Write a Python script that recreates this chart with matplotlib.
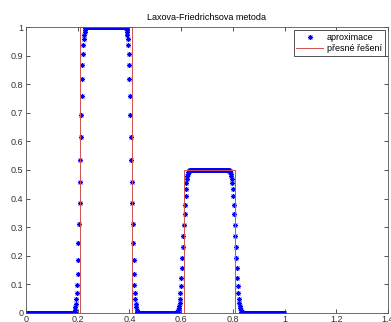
import numpy as np
import matplotlib
matplotlib.use("Agg")
import matplotlib.pyplot as plt

plt.rcParams['font.family'] = ['Liberation Sans', 'DejaVu Sans']

# presne reseni (schod)
exact_x = [0.0, 0.21, 0.21, 0.41, 0.41, 0.61, 0.61, 0.81, 0.81, 1.0]
exact_y = [0.0, 0.0, 1.0, 1.0, 0.0, 0.0, 0.5, 0.5, 0.0, 0.0]

# aproximace - hrany
rise1_x = [0.188, 0.190, 0.191, 0.193, 0.195, 0.196, 0.198, 0.200, 0.201, 0.203, 0.205, 0.207, 0.208,
           0.210, 0.212, 0.213, 0.215, 0.217, 0.218, 0.220, 0.222, 0.224, 0.225, 0.227, 0.229, 0.230]
rise1_y = [0.004, 0.008, 0.019, 0.031, 0.047, 0.068, 0.096, 0.135, 0.186, 0.243, 0.310, 0.384, 0.458,
           0.535, 0.617, 0.691, 0.758, 0.819, 0.868, 0.906, 0.938, 0.958, 0.974, 0.985, 0.992, 0.996]

fall1_x = [0.387, 0.389, 0.390, 0.392, 0.394, 0.395, 0.397, 0.399, 0.400, 0.402, 0.404, 0.406, 0.407,
           0.409, 0.411, 0.412, 0.414, 0.416, 0.417, 0.419, 0.421, 0.423, 0.425, 0.427, 0.429, 0.430]
fall1_y = [0.996, 0.992, 0.985, 0.974, 0.958, 0.938, 0.906, 0.868, 0.819, 0.758, 0.691, 0.617, 0.535,
           0.458, 0.384, 0.310, 0.243, 0.186, 0.135, 0.096, 0.068, 0.047, 0.031, 0.019, 0.008, 0.004]

rise2_x = [0.584, 0.586, 0.588, 0.590, 0.592, 0.594, 0.596, 0.597, 0.599, 0.601, 0.603, 0.605, 0.607,
           0.609, 0.611, 0.613, 0.615, 0.617, 0.618, 0.620, 0.622, 0.624, 0.626, 0.628, 0.630, 0.632]
rise2_y = [0.002, 0.004, 0.010, 0.016, 0.024, 0.034, 0.048, 0.068, 0.093, 0.122, 0.155, 0.192, 0.229,
           0.268, 0.309, 0.346, 0.379, 0.410, 0.434, 0.453, 0.469, 0.479, 0.487, 0.493, 0.496, 0.498]

fall2_x = [0.786, 0.788, 0.790, 0.792, 0.794, 0.796, 0.798, 0.799, 0.801, 0.803, 0.805, 0.807, 0.809,
           0.811, 0.813, 0.815, 0.817, 0.819, 0.820, 0.822, 0.824, 0.826, 0.828, 0.830, 0.832, 0.834]
fall2_y = [0.498, 0.496, 0.493, 0.487, 0.479, 0.469, 0.453, 0.434, 0.410, 0.379, 0.346, 0.309, 0.268,
           0.229, 0.192, 0.155, 0.122, 0.093, 0.068, 0.048, 0.034, 0.024, 0.016, 0.010, 0.004, 0.002]

# rovne useky: (od, do, hodnota)
flat_segments = [(0.0, 0.187, 0.0), (0.232, 0.386, 1.0), (0.431, 0.583, 0.0),
                 (0.634, 0.785, 0.5), (0.836, 1.0, 0.0)]
grid_step = 0.0017

x_ticks = [0, 0.2, 0.4, 0.6, 0.8, 1, 1.2, 1.4]
y_ticks = [0, 0.1, 0.2, 0.3, 0.4, 0.5, 0.6, 0.7, 0.8, 0.9, 1]

approx_x = []
approx_y = []
for a, b, v in flat_segments:
    xs = np.arange(a, b + 1e-9, grid_step)
    approx_x.extend(xs)
    approx_y.extend([v] * len(xs))
for fx, fy in [(rise1_x, rise1_y), (fall1_x, fall1_y), (rise2_x, rise2_y), (fall2_x, fall2_y)]:
    approx_x.extend(fx)
    approx_y.extend(fy)
order = np.argsort(approx_x)
approx_x = np.array(approx_x)[order]
approx_y = np.array(approx_y)[order]

fig = plt.figure(figsize=(3.91, 3.22), dpi=100)
ax = fig.add_axes([0.0665, 0.0289, 0.9258, 0.8863])

# hvezdicka jako v matlabu (8 paprsku)
ax.plot(approx_x, approx_y, linestyle='none', marker=(8, 2, 0), color='blue', markersize=3.6,
        markeredgewidth=0.6, label='aproximace')
ax.plot(exact_x, exact_y, '-', color='#d05050', linewidth=0.7, label='přesné řešení')

ax.set_xlim(0, 1.4)
ax.set_ylim(0, 1)
ax.set_xticks(x_ticks)
ax.set_xticklabels(['0', '0.2', '0.4', '0.6', '0.8', '1', '1.2', '1.4'])
ax.set_yticks(y_ticks)
ax.set_yticklabels(['0', '0.1', '0.2', '0.3', '0.4', '0.5', '0.6', '0.7', '0.8', '0.9', '1'])
ax.tick_params(direction='in', length=3, width=0.6, top=True, right=True, labelsize=6.5, pad=2,
               colors='#333333')
for s in ax.spines.values():
    s.set_linewidth(0.6)
    s.set_color('#555555')

ax.set_title('Laxova-Friedrichsova metoda', fontsize=6.5, pad=5)

leg = ax.legend(loc='upper right', fontsize=6.5, fancybox=False, framealpha=1, edgecolor='#333333',
                borderaxespad=0.35, handlelength=2.9, handletextpad=0.5, labelspacing=0.25,
                borderpad=0.3)
leg.get_frame().set_linewidth(0.6)

fig.savefig('out.png', dpi=100)
